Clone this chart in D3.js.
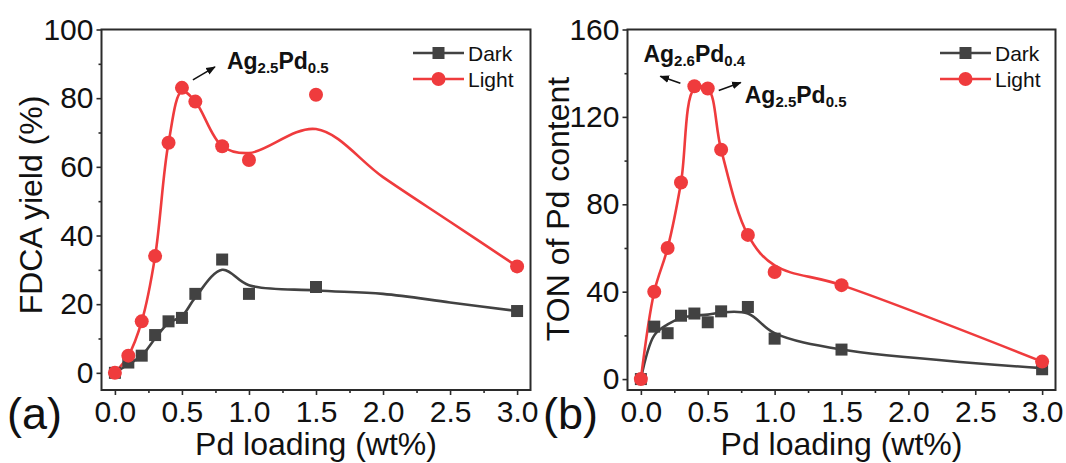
<!DOCTYPE html>
<html>
<head>
<meta charset="utf-8">
<script src="https://cdn.jsdelivr.net/npm/d3@7"></script>
<style>
  html, body { margin: 0; padding: 0; background: #fff; }
  svg { display: block; font-family: "Liberation Sans", Arial, sans-serif; }
</style>
</head>
<body>
<svg id="chart" width="1066" height="463"></svg>
<script>
// Pd loading (wt%) of each sample
const loading = [0, 0.1, 0.2, 0.3, 0.4, 0.5, 0.6, 0.8, 1.0, 1.5, 3.0];

// (a) FDCA yield (%)
const yieldDark  = [0, 3, 5, 11, 15, 16, 23, 33, 23, 25, 18];
const yieldLight = [0, 5, 15, 34, 67, 83, 79, 66, 62, 81, 31];
// smoothed trend lines for (a)
const yieldFitX     = [0, 0.1, 0.2, 0.3, 0.4, 0.5, 0.6, 0.8, 1.0, 1.5, 2.0, 2.5, 3.0];
const yieldDarkFit  = [0, 2.5, 5, 10, 14.5, 16.5, 22, 30, 25.5, 24, 23, 20.5, 18];
const yieldLightFit = [0, 5, 15, 34, 67, 82, 79, 66, 64, 71, 57, 44, 31];

// (b) TON of Pd content
const tonDark  = [0, 24, 21, 29, 30, 26, 31, 33, 18.5, 13.5, 4.5];
const tonLight = [0, 40, 60, 90, 134, 133, 105, 66, 49, 43, 8];
// smoothed trend lines for (b)
const tonFitX     = [0, 0.1, 0.2, 0.3, 0.4, 0.5, 0.6, 0.8, 1.0, 1.5, 3.0];
const tonDarkFit  = [0, 20, 25, 28, 29, 29.5, 30.5, 30, 21, 13.5, 5];
const tonLightFit = [0, 40, 60, 90, 133, 133, 105, 66, 52, 43, 8];

const xTicks = [0, 0.5, 1.0, 1.5, 2.0, 2.5, 3.0];
const xMinor = [0.25, 0.75, 1.25, 1.75, 2.25, 2.75];
const yTicksA = [0, 20, 40, 60, 80, 100];
const yMinorA = [10, 30, 50, 70, 90];
const yTicksB = [0, 40, 80, 120, 160];
const yMinorB = [20, 60, 100, 140];

const seriesNames = ["Dark", "Light"];

const RED = "#ef3b3d";
const GREY = "#424242";
const AXIS = "#2b2b2b";

const svg = d3.select("#chart");

// arrowhead for the annotations
svg.append("defs").append("marker")
  .attr("id", "arrowhead")
  .attr("viewBox", "0 0 10 10")
  .attr("refX", 9).attr("refY", 5)
  .attr("markerWidth", 6).attr("markerHeight", 6)
  .attr("markerUnits", "strokeWidth")
  .attr("orient", "auto")
  .append("path").attr("d", "M0,1 L10,5 L0,9 Z").attr("fill", "#111");

function panel(cfg) {
  const x = d3.scaleLinear().domain([-0.1, 3.1]).range([cfg.left, cfg.right]);
  const y = d3.scaleLinear().domain(cfg.yDomain).range([cfg.bottom, cfg.top]);
  const g = svg.append("g");

  // bottom axis: major + minor ticks, pointing outward
  const xAxis = g.append("g").attr("transform", `translate(0,${cfg.bottom})`)
    .call(d3.axisBottom(x).tickValues(xTicks).tickFormat(d3.format(".1f"))
      .tickSizeInner(5).tickSizeOuter(0).tickPadding(6));
  g.append("g").attr("transform", `translate(0,${cfg.bottom})`)
    .call(d3.axisBottom(x).tickValues(xMinor).tickFormat("").tickSizeInner(3).tickSizeOuter(0));

  // left axis
  const yAxis = g.append("g").attr("transform", `translate(${cfg.left},0)`)
    .call(d3.axisLeft(y).tickValues(cfg.yTicks).tickFormat(d3.format("d"))
      .tickSizeInner(5).tickSizeOuter(0).tickPadding(3));
  g.append("g").attr("transform", `translate(${cfg.left},0)`)
    .call(d3.axisLeft(y).tickValues(cfg.yMinor).tickFormat("").tickSizeInner(3).tickSizeOuter(0));

  g.selectAll(".domain").remove();
  g.selectAll(".tick line").attr("stroke", AXIS).attr("stroke-width", 1.6);
  xAxis.selectAll("text").attr("font-size", 30).attr("fill", "#111")
    .attr("font-family", "Liberation Sans, Arial, sans-serif");
  yAxis.selectAll("text").attr("font-size", 30).attr("fill", "#111")
    .attr("font-family", "Liberation Sans, Arial, sans-serif");

  // frame
  g.append("rect")
    .attr("x", cfg.left).attr("y", cfg.top)
    .attr("width", cfg.right - cfg.left).attr("height", cfg.bottom - cfg.top)
    .attr("fill", "none").attr("stroke", AXIS).attr("stroke-width", 2);

  // axis titles
  g.append("text")
    .attr("x", (cfg.left + cfg.right) / 2).attr("y", 455)
    .attr("text-anchor", "middle").attr("font-size", 32).attr("fill", "#111")
    .text("Pd loading (wt%)");
  g.append("text")
    .attr("transform", `translate(${cfg.yTitleX},${cfg.yTitleY}) rotate(-90)`)
    .attr("text-anchor", "middle").attr("font-size", 32).attr("fill", "#111")
    .text(cfg.yTitle);

  // panel letter
  g.append("text")
    .attr("x", cfg.letterX).attr("y", 429)
    .attr("font-size", 45).attr("fill", "#111")
    .text(cfg.letter);

  // trend lines
  const line = d3.line()
    .x(d => x(d[0])).y(d => y(d[1]))
    .curve(d3.curveCatmullRom.alpha(0.5));
  const darkFit = cfg.fitXDark.map((v, i) => [v, cfg.darkFit[i]]);
  const lightFit = cfg.fitXLight.map((v, i) => [v, cfg.lightFit[i]]);
  g.append("path").attr("d", line(darkFit))
    .attr("fill", "none").attr("stroke", GREY).attr("stroke-width", 2.6);
  g.append("path").attr("d", line(lightFit))
    .attr("fill", "none").attr("stroke", RED).attr("stroke-width", 2.6);

  // markers
  const sq = 12;
  g.append("g").selectAll("rect")
    .data(loading.map((v, i) => [v, cfg.dark[i]]))
    .join("rect")
    .attr("x", d => x(d[0]) - sq / 2).attr("y", d => y(d[1]) - sq / 2)
    .attr("width", sq).attr("height", sq).attr("fill", GREY);
  g.append("g").selectAll("circle")
    .data(loading.map((v, i) => [v, cfg.light[i]]))
    .join("circle")
    .attr("cx", d => x(d[0])).attr("cy", d => y(d[1]))
    .attr("r", 7).attr("fill", RED);

  // legend
  const lg = g.append("g");
  seriesNames.forEach((name, i) => {
    const ly = 53 + i * 26;
    const col = i === 0 ? GREY : RED;
    lg.append("line")
      .attr("x1", cfg.legendX).attr("x2", cfg.legendX + 51)
      .attr("y1", ly).attr("y2", ly)
      .attr("stroke", col).attr("stroke-width", 2.6);
    if (i === 0) {
      lg.append("rect").attr("x", cfg.legendX + 25.5 - sq / 2).attr("y", ly - sq / 2)
        .attr("width", sq).attr("height", sq).attr("fill", col);
    } else {
      lg.append("circle").attr("cx", cfg.legendX + 25.5).attr("cy", ly)
        .attr("r", 7).attr("fill", col);
    }
    lg.append("text")
      .attr("x", cfg.legendX + 55).attr("y", ly).attr("dy", "0.36em")
      .attr("font-size", 21).attr("fill", "#111")
      .text(name);
  });

  return { g, x, y };
}

// chemical formula label with subscripts
function formula(g, xPos, yPos, parts) {
  const t = g.append("text")
    .attr("x", xPos).attr("y", yPos)
    .attr("font-weight", "bold").attr("fill", "#111");
  let shift = 0;
  parts.forEach(([txt, sub]) => {
    const dy = sub ? 4 - shift : -shift;
    shift = sub ? 4 : 0;
    t.append("tspan").attr("dy", dy).attr("font-size", sub ? 15 : 23).text(txt);
  });
}

function arrow(g, x1, y1, x2, y2) {
  g.append("line")
    .attr("x1", x1).attr("y1", y1).attr("x2", x2).attr("y2", y2)
    .attr("stroke", "#111").attr("stroke-width", 1.6)
    .attr("marker-end", "url(#arrowhead)");
}

// (a) FDCA yield
const A = panel({
  left: 101.5, right: 530.5, top: 29.5, bottom: 390,
  yDomain: [-5, 100], yTicks: yTicksA, yMinor: yMinorA,
  yTitle: "FDCA yield (%)", yTitleX: 42, yTitleY: 205,
  letter: "(a)", letterX: 7,
  dark: yieldDark, light: yieldLight,
  fitXDark: yieldFitX, darkFit: yieldDarkFit,
  fitXLight: yieldFitX, lightFit: yieldLightFit,
  legendX: 413
});
{
  const px = A.x(loading[5]), py = A.y(yieldLight[5]);
  arrow(A.g, px + 11, py - 8, px + 33, py - 21);
  formula(A.g, px + 45, py - 19, [["Ag", false], ["2.5", true], ["Pd", false], ["0.5", true]]);
}

// (b) TON of Pd content
const B = panel({
  left: 627.5, right: 1055.5, top: 29.5, bottom: 390,
  yDomain: [-5, 160], yTicks: yTicksB, yMinor: yMinorB,
  yTitle: "TON of Pd content", yTitleX: 569, yTitleY: 209,
  letter: "(b)", letterX: 543,
  dark: tonDark, light: tonLight,
  fitXDark: tonFitX, darkFit: tonDarkFit,
  fitXLight: tonFitX, lightFit: tonLightFit,
  legendX: 940
});
{
  const p4x = B.x(loading[4]), p4y = B.y(tonLight[4]);
  arrow(B.g, p4x - 14, p4y - 3, p4x - 34, p4y - 10);
  formula(B.g, p4x - 51, p4y - 24, [["Ag", false], ["2.6", true], ["Pd", false], ["0.4", true]]);
  const p5x = B.x(loading[5]), p5y = B.y(tonLight[5]);
  arrow(B.g, p5x + 11, p5y + 2, p5x + 33, p5y - 6);
  formula(B.g, p5x + 37, p5y + 15, [["Ag", false], ["2.5", true], ["Pd", false], ["0.5", true]]);
}
</script>
</body>
</html>
